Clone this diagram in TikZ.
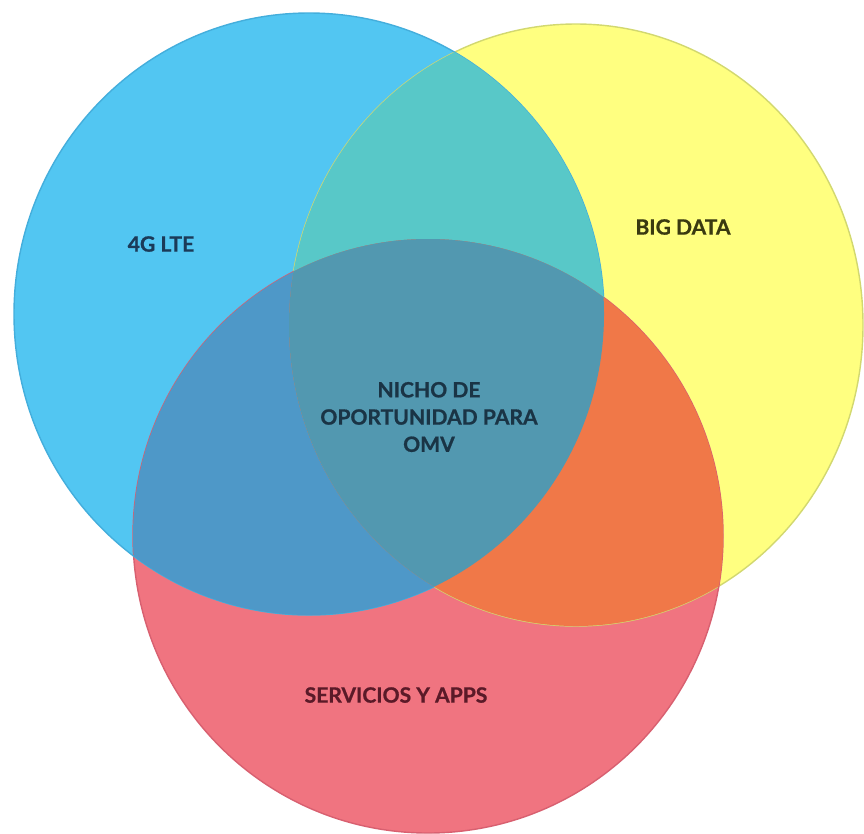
\documentclass[tikz,border=0pt]{standalone}
\usepackage{fontspec}
\setmainfont{Lato}[BoldFeatures={FakeBold=0.8}]
\usepackage{xcolor}
\usepackage{tikz}
\usetikzlibrary{positioning}
\definecolor{ltefill}{HTML}{52C6F2}
\definecolor{datafill}{HTML}{FFFF80}
\definecolor{appsfill}{HTML}{F07480}
\definecolor{ltedatafill}{HTML}{58C8C8}
\definecolor{lteappsfill}{HTML}{4E98C8}
\definecolor{dataappsfill}{HTML}{F07848}
\definecolor{nichofill}{HTML}{5298B0}
\definecolor{lteedge}{HTML}{44AEDC}
\definecolor{dataedge}{HTML}{D2D870}
\definecolor{appsedge}{HTML}{D86070}
\definecolor{ltetext}{HTML}{1B3A58}
\definecolor{datatext}{HTML}{3A3A10}
\definecolor{appstext}{HTML}{5A1A28}
\definecolor{nichotext}{HTML}{1A3445}
\newcommand{\ltecircle}{(309,314) ellipse [x radius=295, y radius=301]}
\newcommand{\datacircle}{(576,325) ellipse [x radius=287, y radius=301]}
\newcommand{\appscircle}{(428,536) ellipse [x radius=295, y radius=297]}

\begin{document}
\begin{tikzpicture}[x=0.02cm, y=-0.02cm, font=\bfseries\fontsize{12}{15.5}\selectfont,
    setlabel/.style={align=center, inner sep=0pt}]
    \useasboundingbox (0,0) rectangle (864,833);

    % Sets
    \fill[datafill] \datacircle;
    \fill[appsfill] \appscircle;
    \fill[ltefill] \ltecircle;

    % Outlines
    \draw[dataedge, line width=0.8pt] \datacircle;
    \draw[appsedge, line width=0.8pt] \appscircle;
    \draw[lteedge, line width=0.8pt] \ltecircle;

    % Overlaps
    \begin{scope}
        \clip \ltecircle;
        \fill[ltedatafill] \datacircle;
        \fill[lteappsfill] \appscircle;
    \end{scope}
    \begin{scope}
        \clip \datacircle;
        \fill[dataappsfill] \appscircle;
        \clip \appscircle;
        \fill[nichofill] \ltecircle;
    \end{scope}

    % Labels
    \node[setlabel, ltetext] (lte) at (161,244) {4G LTE};
    \node[setlabel, datatext] (data) at (683,227) {BIG DATA};
    \node[setlabel, appstext] (apps) at (396,695) {SERVICIOS Y APPS};
    \node[setlabel, nichotext] (nicho) at (429,417) {NICHO DE\\OPORTUNIDAD PARA\\OMV};
\end{tikzpicture}
\end{document}
